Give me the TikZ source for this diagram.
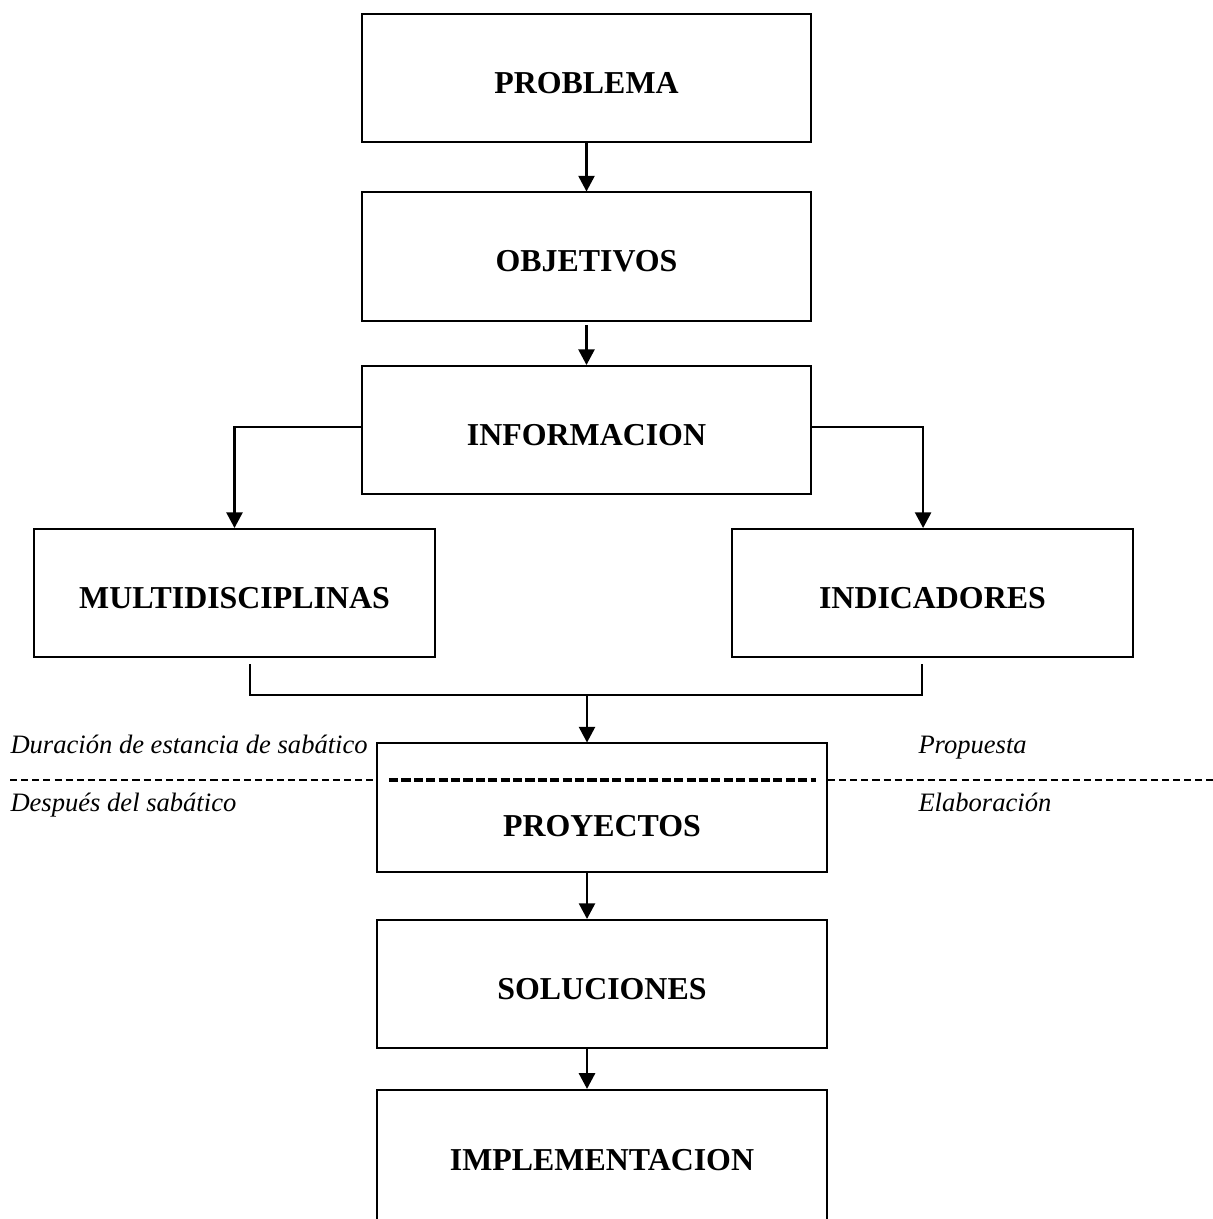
\documentclass[tikz,border=0pt]{standalone}
\usepackage{fontspec}
\setmainfont{Liberation Serif}
\usepackage{tikz}
\usetikzlibrary{arrows.meta, positioning}

\begin{document}
\begin{tikzpicture}[
        box/.style={draw, line width=0.75pt, minimum width=6.24cm, minimum height=1.78cm, align=center, text height=12pt, text depth=0pt, font=\fontsize{12.6}{15}\selectfont\bfseries},
        sidebox/.style={box, minimum width=5.56cm},
        arrow/.style={-{Triangle[length=6.2pt,width=6.4pt]}, line width=0.8pt},
        note/.style={anchor=base west, inner sep=0pt, font=\fontsize{10.5}{12}\selectfont\itshape}
    ]
        \useasboundingbox (0,0) rectangle (16.847,16.931);
        \node[box] (problema) at (8.146,15.847) {PROBLEMA};
        \node[box] (objetivos) at (8.146,13.368) {OBJETIVOS};
        \node[box] (informacion) at (8.146,10.958) {INFORMACION};
        \node[sidebox] (multi) at (3.257,8.694) {MULTIDISCIPLINAS};
        \node[sidebox] (indicadores) at (12.951,8.694) {INDICADORES};
        \node[box, minimum width=6.25cm, text height=23pt] (proyectos) at (8.361,5.715) {PROYECTOS};
        \node[box, minimum width=6.25cm] (soluciones) at (8.361,3.264) {SOLUCIONES};
        \node[box, minimum width=6.25cm, minimum height=1.81cm] (implementacion) at (8.361,0.889) {IMPLEMENTACION};

        \node[note] (duracion) at (0.139,6.472) {Duración de estancia de sabático};
        \node[note] (despues) at (0.139,5.653) {Después del sabático};
        \node[note] (propuesta) at (12.75,6.472) {Propuesta};
        \node[note] (elaboracion) at (12.75,5.653) {Elaboración};

        \coordinate (join) at (8.153,7.278);
        \coordinate (cutl) at (0.139,6.097);
        \coordinate (cutr) at (16.847,6.097);

        \draw[arrow] (problema) -- (objetivos);
        \draw[arrow] ([yshift=-0.05cm]objetivos.south) -- (informacion);
        \draw[arrow] ([yshift=0.04cm]informacion.west) -| (multi.north);
        \draw[arrow] ([yshift=0.04cm]informacion.east) -| ([xshift=-0.13cm]indicadores.north);
        \draw[line width=0.8pt] ([xshift=0.215cm,yshift=-0.083cm]multi.south) |- (join)
            -| ([xshift=-0.146cm,yshift=-0.083cm]indicadores.south);
        \draw[arrow] (join) -- (join |- proyectos.north);
        \draw[arrow] (proyectos.south -| join) -- (soluciones.north -| join);
        \draw[arrow] (soluciones.south -| join) -- (implementacion.north -| join);

        % period line
        \draw[dash pattern=on 2.8pt off 1.6pt, line width=0.5pt] (cutl) -- (cutl -| proyectos.west);
        \draw[dash pattern=on 2.8pt off 1.6pt, line width=0.5pt] (cutr -| proyectos.east) -- (cutr);
        \draw[dash pattern=on 3.6pt off 1.3pt, line width=1.3pt]
            ([xshift=0.18cm]cutl -| proyectos.west) -- ([xshift=-0.17cm]cutr -| proyectos.east);
    \end{tikzpicture}
\end{document}
